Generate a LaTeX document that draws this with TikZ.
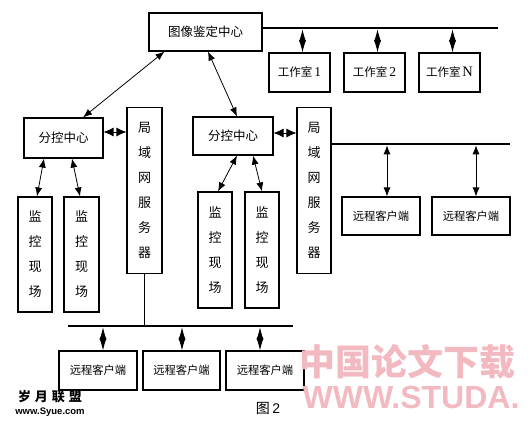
\documentclass[tikz,border=0pt]{standalone}
\usepackage{fontspec}
\setmainfont{Liberation Serif}
\newfontfamily\cjk{Noto Sans CJK SC}
\newfontfamily\wmfont{Liberation Sans}
\usetikzlibrary{arrows.meta}
\definecolor{wmpink}{RGB}{242,185,193}
\begin{document}
\begin{tikzpicture}[x=1pt,y=-1pt,
  box/.style={draw, line width=1.1pt, inner sep=0pt, font=\cjk\fontsize{12.5}{14}\selectfont},
  vbox/.style={box, align=center, font=\cjk\fontsize{13}{25}\selectfont},
  wbox/.style={box, minimum width=61pt, minimum height=39pt, font=\cjk\fontsize{11.5}{14}\selectfont},
  cbox/.style={box, minimum height=39pt, font=\cjk\fontsize{11.3}{14}\selectfont},
  bus/.style={line width=2.8pt},
  dia/.style={line width=0.8pt, {Latex[length=12pt,width=7pt]}-{Latex[length=12pt,width=7pt]}},
  lanarr/.style={line width=0.8pt, {Latex[length=10pt,width=9pt]}-{Latex[length=10pt,width=9pt]}},
  biarr/.style={line width=0.8pt, {Latex[length=9pt,width=7pt]}-{Latex[length=9pt,width=7pt]}},
  wm/.style={text=wmpink, inner sep=0pt}
]
\useasboundingbox (0,0) rectangle (529,424);

% top centre and work rooms
\node[box, minimum width=113pt, minimum height=38pt] (A) at (205.5,32) {图像鉴定中心};
\node[wbox] (W1) at (299.5,72.5) {工作室\,{\rmfamily\fontsize{13.5}{14}\selectfont 1}};
\node[wbox] (W2) at (374.5,72.5) {工作室\,{\rmfamily\fontsize{13.5}{14}\selectfont 2}};
\node[wbox] (WN) at (449.5,72.5) {工作室\,{\rmfamily\fontsize{14.5}{14}\selectfont N}};
\coordinate (b1end) at (498,28);
\draw[bus] ([yshift=4pt]A.east) -- (b1end);
\foreach \w in {W1,W2,WN}
  \draw[dia, shorten <=1.3pt] ([xshift=3pt]\w.north |- b1end) -- ([xshift=3pt]\w.north);

% left branch
\node[box, minimum width=79pt, minimum height=40pt] (LFK) at (63.5,138) {分控中心};
\node[vbox, minimum width=35pt, minimum height=166pt, anchor=north] (LLAN) at (144.5,107) {\rule{0pt}{10pt}局\\域\\网\\服\\务\\器};
\node[vbox, minimum width=34pt, minimum height=115pt] (LM1) at (35,254.5) {监\\控\\现\\场};
\node[vbox, minimum width=35pt, minimum height=115pt] (LM2) at (81.5,254.5) {监\\控\\现\\场};
\draw[lanarr] ([yshift=6pt]LFK.east) -- ([yshift=6pt]LFK.east -| LLAN.west);
\draw[biarr] ([xshift=-19.5pt]LFK.south) -- ([xshift=2pt]LM1.north);
\draw[biarr] ([xshift=8.5pt]LFK.south) -- ([xshift=-1.5pt]LM2.north);

% right branch
\node[box, minimum width=80pt, minimum height=38pt] (RFK) at (233,136) {分控中心};
\node[vbox, minimum width=34pt, minimum height=166pt, anchor=north] (RLAN) at (314,107) {\rule{0pt}{10pt}局\\域\\网\\服\\务\\器};
\node[vbox, minimum width=34pt, minimum height=116pt] (RM1) at (215,250) {监\\控\\现\\场};
\node[vbox, minimum width=34pt, minimum height=116pt] (RM2) at (262,250) {监\\控\\现\\场};
\draw[lanarr] ([yshift=3pt]RFK.east) -- ([yshift=3pt]RFK.east -| RLAN.west);
\draw[biarr] ([xshift=4pt]RFK.south) -- ([xshift=3pt]RM1.north);
\draw[biarr] ([xshift=20pt]RFK.south) -- (RM2.north);

% arrows from image centre
\draw[biarr] ([xshift=16pt]A.south west) -- ([xshift=19.5pt]LFK.north);
\draw[biarr] ([xshift=2.5pt]A.south) -- ([xshift=4pt]RFK.north);

% right remote clients
\node[cbox, minimum width=78pt, minimum height=38pt] (RC1) at (381,216) {远程客户端};
\node[cbox, minimum width=78pt, minimum height=38pt] (RC2) at (471,216) {远程客户端};
\coordinate (b2end) at (510,144);
\draw[bus] (RLAN.east |- b2end) -- (b2end);
\draw[biarr, shorten <=1.3pt] ([xshift=6pt]RC1.north |- b2end) -- ([xshift=6pt]RC1.north);
\draw[biarr, shorten <=1.3pt] ([xshift=5pt]RC2.north |- b2end) -- ([xshift=5pt]RC2.north);

% bottom bus and clients
\coordinate (bb1) at (68,326);
\coordinate (bb2) at (293,326);
\draw[line width=0.8pt] (LLAN.south) -- (LLAN.south |- bb1);
\draw[bus] (bb1) -- (bb2);
\node[cbox, minimum width=78pt] (BC1) at (98,370.5) {远程客户端};
\node[cbox, minimum width=77pt] (BC2) at (181.5,370.5) {远程客户端};
\node[cbox, minimum width=78pt] (BC3) at (265,370.5) {远程客户端};
\draw[dia, shorten <=1.3pt] ([xshift=5pt]BC1.north |- bb1) -- ([xshift=5pt]BC1.north);
\draw[dia, shorten <=1.3pt] ([xshift=0.5pt]BC2.north |- bb1) -- ([xshift=0.5pt]BC2.north);
\draw[dia, shorten <=1.3pt] ([xshift=-5pt]BC3.north |- bb1) -- ([xshift=-5pt]BC3.north);

% caption
\node[inner sep=0pt, font=\cjk\fontsize{14}{16}\selectfont] (cap) at (268,408) {图\,{\wmfont 2}};

% watermarks
\node[wm, font=\cjk\bfseries\fontsize{36}{36}\selectfont] (wm1) at (407,362) {中国论文下载};
\node[wm, font=\wmfont\bfseries\fontsize{32}{32}\selectfont] (wm2) at (411,397) {WWW.STUDA.};
\node[inner sep=0pt, font=\cjk\bfseries\fontsize{13}{14}\selectfont] (wm3) at (50,397) {岁\hspace{4pt}月\hspace{4pt}联\hspace{4pt}盟};
\node[inner sep=0pt, font=\wmfont\bfseries\fontsize{9.5}{10}\selectfont] (wm4) at (50,412) {www.Syue.com};
\end{tikzpicture}
\end{document}
